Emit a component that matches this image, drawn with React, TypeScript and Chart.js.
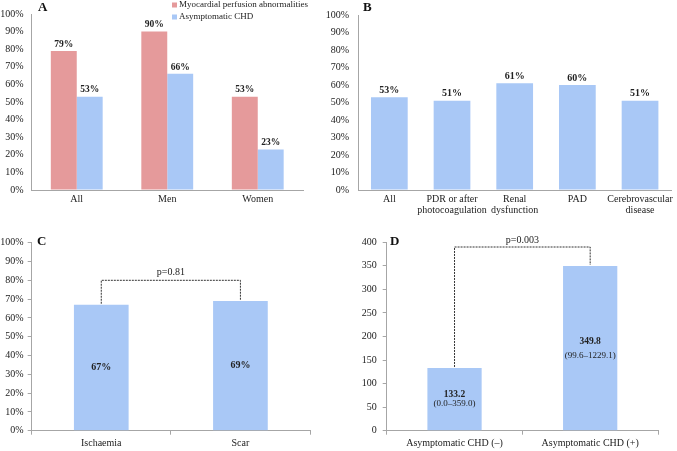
import React, { useEffect, useRef } from 'react';
import { Chart, registerables } from 'chart.js';
Chart.register(...registerables);

const FONT = "'Liberation Serif', 'Times New Roman', serif";
const RED = '#E59A9B';
const BLUE = '#A9C8F6';
const AXIS = '#A6A6A6';
const TEXT = '#222222';
const BRACKET = '#333333';

// Panel A
const aCategories = ['All', 'Men', 'Women'];
const aPerfusion = [79, 90, 53];
const aAsymptomatic = [53, 66, 23];
const aSeriesNames = ['Myocardial perfusion abnormalities', 'Asymptomatic CHD'];

// Panel B
const bCategories = [['All'], ['PDR or after', 'photocoagulation'], ['Renal', 'dysfunction'], ['PAD'], ['Cerebrovascular', 'disease']];
const bValues = [53, 51, 61, 60, 51];

// Panel C
const cCategories = ['Ischaemia', 'Scar'];
const cValues = [67, 69];
const cBracketLevel = 80;
const cPLabel = 'p=0.81';

// Panel D
const dCategories = ['Asymptomatic CHD (\u2013)', 'Asymptomatic CHD (+)'];
const dValues = [133.2, 349.8];
const dValueLabels = ['133.2', '349.8'];
const dRanges = ['(0.0\u2013359.0)', '(99.6\u20131229.1)'];
const dBracketLevel = 390;
const dPLabel = 'p=0.003';

type Area = { l: number; t: number; r: number; b: number };
type Panel = { left: number; top: number; w: number; h: number; area: Area };

const PA: Panel = { left: 0, top: 0, w: 315, h: 222, area: { l: 31.5, t: 6, r: 303, b: 190 } };
const PB: Panel = { left: 315, top: 0, w: 362, h: 222, area: { l: 43, t: 7, r: 360, b: 190 } };
const PC: Panel = { left: 0, top: 222, w: 330, h: 229, area: { l: 31.7, t: 20.7, r: 310, b: 208.7 } };
const PD: Panel = { left: 330, top: 222, w: 347, h: 229, area: { l: 56.7, t: 20.3, r: 328, b: 208.7 } };

function buildConfig(p: Panel, data: any, o: any, plugin: any): any {
  return {
    type: 'bar',
    data,
    options: {
      animation: false,
      responsive: false,
      maintainAspectRatio: false,
      events: [],
      layout: { padding: { top: p.area.t, right: p.w - p.area.r, left: 0, bottom: 0 } },
      plugins: { legend: { display: false }, tooltip: { enabled: false } },
      datasets: { bar: { categoryPercentage: o.catPct, barPercentage: 1, borderWidth: 0 } },
      scales: {
        x: {
          grid: { display: true, drawOnChartArea: false, drawTicks: o.xTicks, tickLength: 4, color: AXIS },
          border: { display: true, color: AXIS, width: 1 },
          ticks: { color: TEXT, font: { family: FONT, size: 10, lineHeight: 1.1 }, padding: o.xPad, maxRotation: 0, autoSkip: false },
          afterFit: (s: any) => { s.height = p.h - p.area.b; },
        },
        y: {
          min: 0,
          max: o.yMax,
          grid: { display: true, drawOnChartArea: false, drawTicks: o.yTicks, tickLength: 4, color: AXIS },
          border: { display: true, color: AXIS, width: 1 },
          ticks: { stepSize: o.yStep, color: TEXT, font: { family: FONT, size: 10 }, padding: o.yPad, callback: o.yFmt },
          afterFit: (s: any) => { s.width = p.area.l; },
        },
      },
    },
    plugins: [plugin],
  };
}

function letter(ctx: any, s: string, x: number, y: number) {
  ctx.save();
  ctx.fillStyle = '#111';
  ctx.font = `bold 13px ${FONT}`;
  ctx.textAlign = 'left';
  ctx.textBaseline = 'middle';
  ctx.fillText(s, x, y);
  ctx.restore();
}

function topLabels(chart: any, size: number, fmt: (v: number) => string) {
  const ctx = chart.ctx;
  ctx.save();
  ctx.fillStyle = TEXT;
  ctx.font = `bold ${size}px ${FONT}`;
  ctx.textAlign = 'center';
  ctx.textBaseline = 'bottom';
  chart.data.datasets.forEach((ds: any, di: number) => {
    chart.getDatasetMeta(di).data.forEach((bar: any, i: number) => {
      ctx.fillText(fmt(ds.data[i]), bar.x, bar.y - 2);
    });
  });
  ctx.restore();
}

function bracket(chart: any, level: number, label: string, gap: number) {
  const ctx = chart.ctx;
  const ys = chart.scales.y;
  const bars = chart.getDatasetMeta(0).data;
  const yl = ys.getPixelForValue(level);
  ctx.save();
  ctx.strokeStyle = BRACKET;
  ctx.lineWidth = 1;
  ctx.setLineDash([2, 1]);
  ctx.beginPath();
  ctx.moveTo(bars[0].x, bars[0].y - 1);
  ctx.lineTo(bars[0].x, yl);
  ctx.lineTo(bars[1].x, yl);
  ctx.lineTo(bars[1].x, bars[1].y - 1);
  ctx.stroke();
  ctx.setLineDash([]);
  ctx.fillStyle = TEXT;
  ctx.font = `10px ${FONT}`;
  ctx.textAlign = 'center';
  ctx.textBaseline = 'bottom';
  ctx.fillText(label, (bars[0].x + bars[1].x) / 2, yl - gap);
  ctx.restore();
}

const pct = (v: any) => `${v}%`;

function ChartCanvas({ panel, make }: { panel: Panel; make: () => any }) {
  const ref = useRef<HTMLCanvasElement | null>(null);
  useEffect(() => {
    if (!ref.current) return;
    const chart = new Chart(ref.current, make());
    return () => chart.destroy();
  }, []);
  return (
    <canvas
      ref={ref}
      width={panel.w}
      height={panel.h}
      style={{ position: 'absolute', left: panel.left, top: panel.top, width: panel.w, height: panel.h }}
    />
  );
}

const makeA = () =>
  buildConfig(
    PA,
    {
      labels: aCategories,
      datasets: [
        { label: aSeriesNames[0], data: aPerfusion, backgroundColor: RED },
        { label: aSeriesNames[1], data: aAsymptomatic, backgroundColor: BLUE },
      ],
    },
    { catPct: 0.573, xTicks: false, xPad: 4, yTicks: false, yPad: 8, yMax: 100, yStep: 10, yFmt: pct },
    {
      id: 'panelA',
      afterDatasetsDraw(chart: any) {
        const ctx = chart.ctx;
        topLabels(chart, 9.5, (v) => `${v}%`);
        letter(ctx, 'A', 38, 8);
        ctx.save();
        ctx.font = `9px ${FONT}`;
        ctx.textAlign = 'left';
        ctx.textBaseline = 'middle';
        const colors = [RED, BLUE];
        aSeriesNames.forEach((n, i) => {
          const cy = 5 + i * 12;
          ctx.fillStyle = colors[i];
          ctx.fillRect(172, cy - 2.5, 5, 5);
          ctx.fillStyle = TEXT;
          ctx.fillText(n, 179, cy);
        });
        ctx.restore();
      },
    }
  );

const makeB = () =>
  buildConfig(
    PB,
    { labels: bCategories, datasets: [{ label: 'Asymptomatic CHD', data: bValues, backgroundColor: BLUE }] },
    { catPct: 0.586, xTicks: false, xPad: 4, yTicks: false, yPad: 9, yMax: 100, yStep: 10, yFmt: pct },
    {
      id: 'panelB',
      afterDatasetsDraw(chart: any) {
        topLabels(chart, 10, (v) => `${v}%`);
        letter(chart.ctx, 'B', 48, 8);
      },
    }
  );

const makeC = () =>
  buildConfig(
    PC,
    { labels: cCategories, datasets: [{ label: 'C', data: cValues, backgroundColor: BLUE }] },
    { catPct: 0.393, xTicks: true, xPad: 3, yTicks: true, yPad: 4, yMax: 100, yStep: 10, yFmt: pct },
    {
      id: 'panelC',
      afterDatasetsDraw(chart: any) {
        const ctx = chart.ctx;
        const ys = chart.scales.y;
        ctx.save();
        ctx.fillStyle = TEXT;
        ctx.font = `bold 10px ${FONT}`;
        ctx.textAlign = 'center';
        ctx.textBaseline = 'middle';
        chart.getDatasetMeta(0).data.forEach((bar: any, i: number) => {
          ctx.fillText(`${cValues[i]}%`, bar.x, ys.getPixelForValue(cValues[i] / 2));
        });
        ctx.restore();
        bracket(chart, cBracketLevel, cPLabel, 3);
        letter(ctx, 'C', 37, 20);
      },
    }
  );

const makeD = () =>
  buildConfig(
    PD,
    { labels: dCategories, datasets: [{ label: 'D', data: dValues, backgroundColor: BLUE }] },
    { catPct: 0.4, xTicks: true, xPad: 3, yTicks: true, yPad: 6, yMax: 400, yStep: 50, yFmt: (v: any) => `${v}` },
    {
      id: 'panelD',
      afterDatasetsDraw(chart: any) {
        const ctx = chart.ctx;
        const ys = chart.scales.y;
        const gaps = [9.5, 14];
        ctx.save();
        ctx.fillStyle = TEXT;
        ctx.textAlign = 'center';
        ctx.textBaseline = 'middle';
        chart.getDatasetMeta(0).data.forEach((bar: any, i: number) => {
          const mid = ys.getPixelForValue(dValues[i] / 2);
          ctx.font = `bold 9.5px ${FONT}`;
          ctx.fillText(dValueLabels[i], bar.x, mid - gaps[i] / 2);
          ctx.font = `9px ${FONT}`;
          ctx.fillText(dRanges[i], bar.x, mid + gaps[i] / 2);
        });
        ctx.restore();
        bracket(chart, dBracketLevel, dPLabel, 1.5);
        letter(ctx, 'D', 60, 20);
      },
    }
  );

export default function App() {
  return (
    <div style={{ position: 'absolute', left: 0, top: 0, width: 677, height: 451, background: '#fff', overflow: 'hidden' }}>
      <ChartCanvas panel={PA} make={makeA} />
      <ChartCanvas panel={PB} make={makeB} />
      <ChartCanvas panel={PC} make={makeC} />
      <ChartCanvas panel={PD} make={makeD} />
    </div>
  );
}
